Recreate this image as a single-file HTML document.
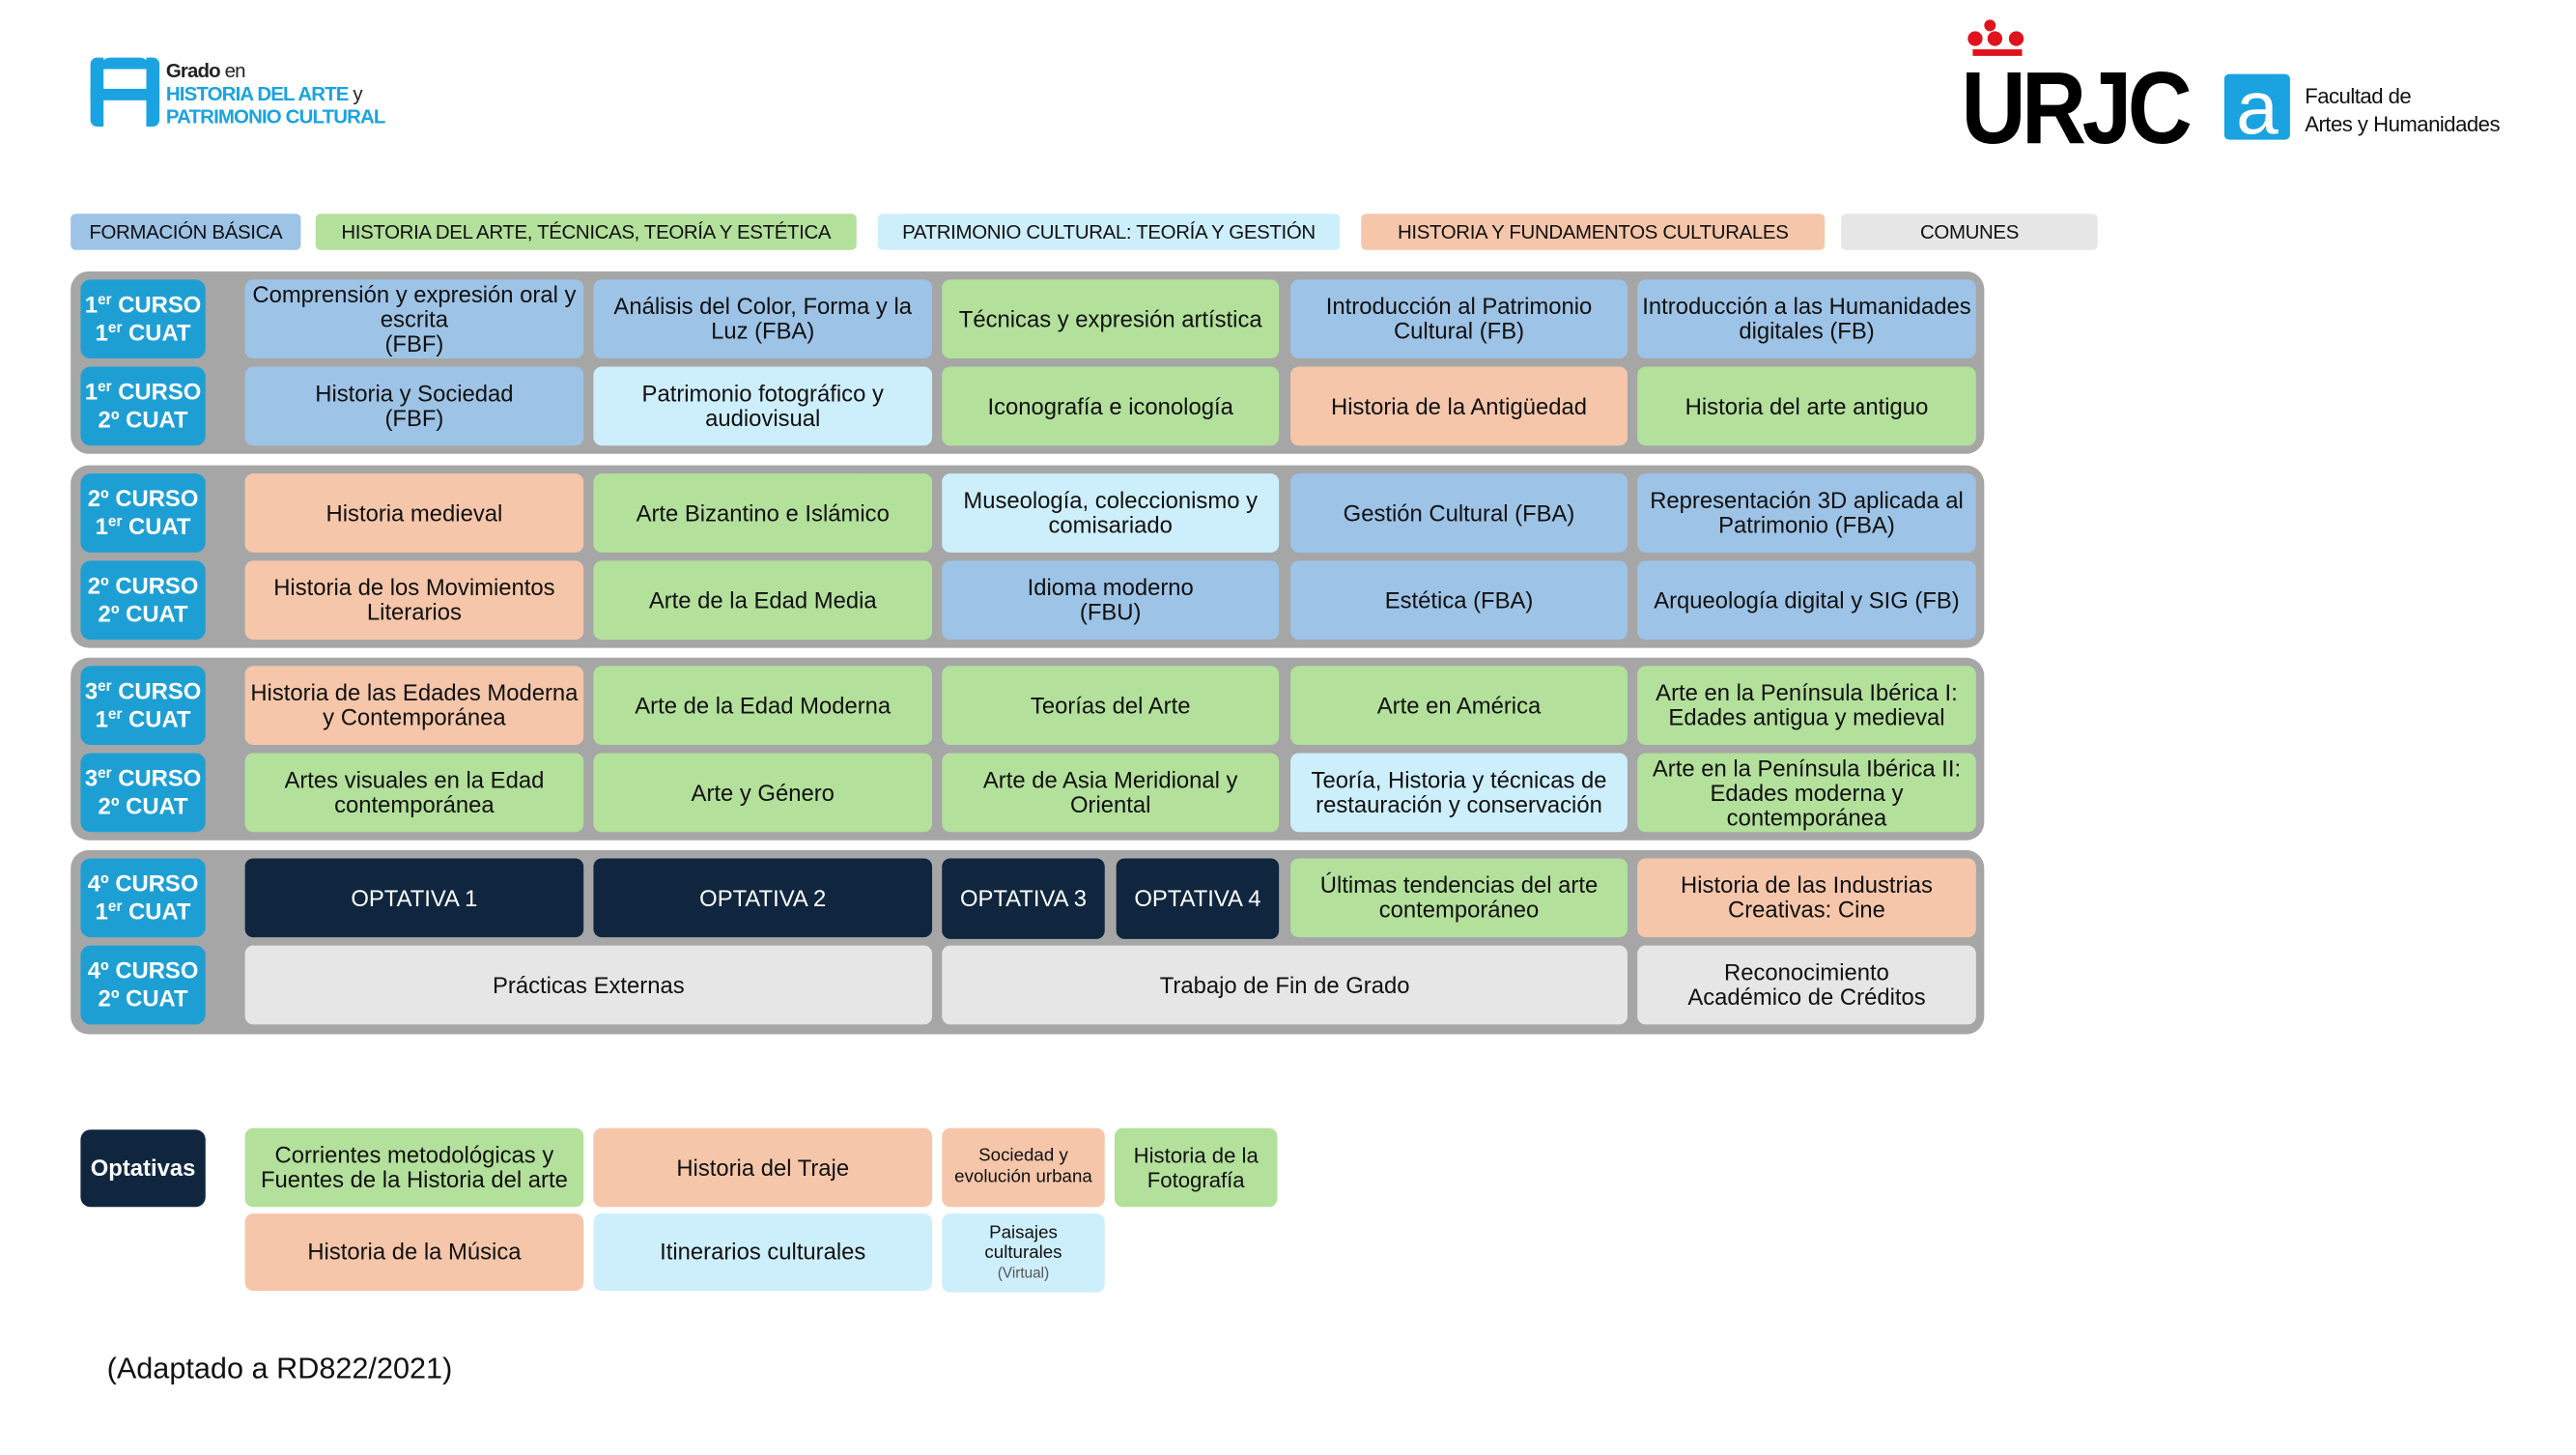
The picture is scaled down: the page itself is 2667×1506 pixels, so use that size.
<!DOCTYPE html>
<html><head><meta charset="utf-8"><style>
html,body{margin:0;padding:0;background:#fff;width:2667px;height:1500px;overflow:hidden}
#w{position:absolute;left:0;top:0;width:1570px;height:885px;transform:scale(1.702,1.702);transform-origin:0 0;font-family:"Liberation Sans",Arial,sans-serif}
.a{position:absolute;box-sizing:border-box;display:flex;align-items:center;justify-content:center;text-align:center;font-size:14px;line-height:15px;color:#111;border-radius:5px;padding:0 3px}
.a>div{width:100%}
.g{position:absolute;background:#a6a6a6;border-radius:11px}
.L{background:#1e9fd4;color:#fff;font-weight:bold;line-height:17px;border-radius:6px;padding:0}
.L sup{font-size:9px;line-height:0;vertical-align:5px}
.b{background:#9dc3e6}.v{background:#b3e09b}.c{background:#cdeefb}.p{background:#f5c6aa}.e{background:#e6e6e6}.n{background:#10263f;color:#fff}
.lg{font-size:12px;border-radius:3px;letter-spacing:-0.2px}
</style></head><body><div id="w">
<div style="position:absolute;left:55px;top:35px;width:42px;height:42px">
<div style="position:absolute;left:0;top:0;width:8px;height:42px;background:#1aa3e0;border-radius:4px 0 0 4px"></div>
<div style="position:absolute;right:0;top:0;width:8px;height:42px;background:#1aa3e0;border-radius:0 4px 4px 0"></div>
<div style="position:absolute;left:6px;top:0;width:30px;height:7px;background:#1aa3e0;border-radius:6px 6px 0 0"></div>
<div style="position:absolute;left:0;top:19px;width:42px;height:7px;background:#1aa3e0"></div>
</div>
<div style="position:absolute;left:101px;top:36px;font-size:12px;line-height:14px;font-weight:bold;letter-spacing:-0.5px;color:#222">Grado <span style="font-weight:normal">en</span><br><span style="color:#1aa3e0">HISTORIA DEL ARTE</span> <span style="font-weight:normal">y</span><br><span style="color:#1aa3e0">PATRIMONIO CULTURAL</span></div>
<div style="position:absolute;left:1207px;top:12px;width:7px;height:7px;border-radius:50%;background:#e0121b"></div>
<div style="position:absolute;left:1197px;top:19px;width:9px;height:9px;border-radius:50%;background:#e0121b"></div>
<div style="position:absolute;left:1209px;top:19px;width:9px;height:9px;border-radius:50%;background:#e0121b"></div>
<div style="position:absolute;left:1222px;top:19px;width:9px;height:9px;border-radius:50%;background:#e0121b"></div>
<div style="position:absolute;left:1200px;top:30px;width:30px;height:4px;background:#e0121b"></div>
<div style="position:absolute;left:1193px;top:32px;font-size:62px;line-height:70px;font-weight:bold;color:#000;letter-spacing:-3px;transform:scaleX(0.88);transform-origin:0 0">URJC</div>
<div style="position:absolute;left:1353px;top:45px;width:40px;height:40px;background:#1aa3e0;border-radius:3px;color:#fff;font-size:46px;line-height:40px;text-align:center;overflow:hidden">a</div>
<div style="position:absolute;left:1402px;top:50px;font-size:13px;line-height:17px;color:#111;letter-spacing:-0.3px">Facultad de<br>Artes y Humanidades</div>
<div class="a lg b" style="left:43px;top:130px;width:140px;height:22px">FORMACIÓN BÁSICA</div>
<div class="a lg v" style="left:192px;top:130px;width:329px;height:22px">HISTORIA DEL ARTE, TÉCNICAS, TEORÍA Y ESTÉTICA</div>
<div class="a lg c" style="left:534px;top:130px;width:281px;height:22px">PATRIMONIO CULTURAL: TEORÍA Y GESTIÓN</div>
<div class="a lg p" style="left:828px;top:130px;width:282px;height:22px">HISTORIA Y FUNDAMENTOS CULTURALES</div>
<div class="a lg e" style="left:1120px;top:130px;width:156px;height:22px">COMUNES</div>
<div class="g" style="left:43px;top:165px;width:1164px;height:111px"></div>
<div class="g" style="left:43px;top:283px;width:1164px;height:111px"></div>
<div class="g" style="left:43px;top:400px;width:1164px;height:111px"></div>
<div class="g" style="left:43px;top:517px;width:1164px;height:112px"></div>
<div class="a L" style="left:49px;top:170px;width:76px;height:48px"><div>1<sup>er</sup> CURSO<br>1<sup>er</sup> CUAT</div></div>
<div class="a L" style="left:49px;top:223px;width:76px;height:48px"><div>1<sup>er</sup> CURSO<br>2º CUAT</div></div>
<div class="a L" style="left:49px;top:288px;width:76px;height:48px"><div>2º CURSO<br>1<sup>er</sup> CUAT</div></div>
<div class="a L" style="left:49px;top:341px;width:76px;height:48px"><div>2º CURSO<br>2º CUAT</div></div>
<div class="a L" style="left:49px;top:405px;width:76px;height:48px"><div>3<sup>er</sup> CURSO<br>1<sup>er</sup> CUAT</div></div>
<div class="a L" style="left:49px;top:458px;width:76px;height:48px"><div>3<sup>er</sup> CURSO<br>2º CUAT</div></div>
<div class="a L" style="left:49px;top:522px;width:76px;height:48px"><div>4º CURSO<br>1<sup>er</sup> CUAT</div></div>
<div class="a L" style="left:49px;top:575px;width:76px;height:48px"><div>4º CURSO<br>2º CUAT</div></div>
<div class="a b" style="left:149px;top:170px;width:206px;height:48px"><div>Comprensión y expresión oral y escrita<br>(FBF)</div></div>
<div class="a b" style="left:361px;top:170px;width:206px;height:48px"><div>Análisis del Color, Forma y la<br>Luz (FBA)</div></div>
<div class="a v" style="left:573px;top:170px;width:205px;height:48px"><div>Técnicas y expresión artística</div></div>
<div class="a b" style="left:785px;top:170px;width:205px;height:48px"><div>Introducción al Patrimonio Cultural (FB)</div></div>
<div class="a b" style="left:996px;top:170px;width:206px;height:48px"><div>Introducción a las Humanidades digitales (FB)</div></div>
<div class="a b" style="left:149px;top:223px;width:206px;height:48px"><div>Historia y Sociedad<br>(FBF)</div></div>
<div class="a c" style="left:361px;top:223px;width:206px;height:48px"><div>Patrimonio fotográfico y<br>audiovisual</div></div>
<div class="a v" style="left:573px;top:223px;width:205px;height:48px"><div>Iconografía e iconología</div></div>
<div class="a p" style="left:785px;top:223px;width:205px;height:48px"><div>Historia de la Antigüedad</div></div>
<div class="a v" style="left:996px;top:223px;width:206px;height:48px"><div>Historia del arte antiguo</div></div>
<div class="a p" style="left:149px;top:288px;width:206px;height:48px"><div>Historia medieval</div></div>
<div class="a v" style="left:361px;top:288px;width:206px;height:48px"><div>Arte Bizantino e Islámico</div></div>
<div class="a c" style="left:573px;top:288px;width:205px;height:48px"><div>Museología, coleccionismo y comisariado</div></div>
<div class="a b" style="left:785px;top:288px;width:205px;height:48px"><div>Gestión Cultural (FBA)</div></div>
<div class="a b" style="left:996px;top:288px;width:206px;height:48px"><div>Representación 3D aplicada al Patrimonio (FBA)</div></div>
<div class="a p" style="left:149px;top:341px;width:206px;height:48px"><div>Historia de los Movimientos Literarios</div></div>
<div class="a v" style="left:361px;top:341px;width:206px;height:48px"><div>Arte de la Edad Media</div></div>
<div class="a b" style="left:573px;top:341px;width:205px;height:48px"><div>Idioma moderno<br>(FBU)</div></div>
<div class="a b" style="left:785px;top:341px;width:205px;height:48px"><div>Estética (FBA)</div></div>
<div class="a b" style="left:996px;top:341px;width:206px;height:48px"><div>Arqueología digital y SIG (FB)</div></div>
<div class="a p" style="left:149px;top:405px;width:206px;height:48px"><div>Historia de las Edades Moderna<br>y Contemporánea</div></div>
<div class="a v" style="left:361px;top:405px;width:206px;height:48px"><div>Arte de la Edad Moderna</div></div>
<div class="a v" style="left:573px;top:405px;width:205px;height:48px"><div>Teorías del Arte</div></div>
<div class="a v" style="left:785px;top:405px;width:205px;height:48px"><div>Arte en América</div></div>
<div class="a v" style="left:996px;top:405px;width:206px;height:48px"><div>Arte en la Península Ibérica I: Edades antigua y medieval</div></div>
<div class="a v" style="left:149px;top:458px;width:206px;height:48px"><div>Artes visuales en la Edad contemporánea</div></div>
<div class="a v" style="left:361px;top:458px;width:206px;height:48px"><div>Arte y Género</div></div>
<div class="a v" style="left:573px;top:458px;width:205px;height:48px"><div>Arte de Asia Meridional y<br>Oriental</div></div>
<div class="a c" style="left:785px;top:458px;width:205px;height:48px"><div>Teoría, Historia y técnicas de restauración y conservación</div></div>
<div class="a v" style="left:996px;top:458px;width:206px;height:48px"><div>Arte en la Península Ibérica II: Edades moderna y contemporánea</div></div>
<div class="a n" style="left:149px;top:522px;width:206px;height:48px"><div>OPTATIVA 1</div></div>
<div class="a n" style="left:361px;top:522px;width:206px;height:48px"><div>OPTATIVA 2</div></div>
<div class="a n" style="left:573px;top:522px;width:99px;height:49px;padding:0"><div>OPTATIVA 3</div></div>
<div class="a n" style="left:679px;top:522px;width:99px;height:49px;padding:0"><div>OPTATIVA 4</div></div>
<div class="a v" style="left:785px;top:522px;width:205px;height:48px"><div>Últimas tendencias del arte contemporáneo</div></div>
<div class="a p" style="left:996px;top:522px;width:206px;height:48px"><div>Historia de las Industrias Creativas: Cine</div></div>
<div class="a e" style="left:149px;top:575px;width:418px;height:48px"><div>Prácticas Externas</div></div>
<div class="a e" style="left:573px;top:575px;width:417px;height:48px"><div>Trabajo de Fin de Grado</div></div>
<div class="a e" style="left:996px;top:575px;width:206px;height:48px"><div>Reconocimiento<br>Académico de Créditos</div></div>
<div class="a n" style="left:49px;top:687px;width:76px;height:47px;font-weight:bold;border-radius:6px;padding:0"><div>Optativas</div></div>
<div class="a v" style="left:149px;top:686px;width:206px;height:48px"><div>Corrientes metodológicas y Fuentes de la Historia del arte</div></div>
<div class="a p" style="left:361px;top:686px;width:206px;height:48px"><div>Historia del Traje</div></div>
<div class="a p" style="left:573px;top:686px;width:99px;height:48px;font-size:11px;line-height:13px;padding:0"><div>Sociedad y<br>evolución urbana</div></div>
<div class="a v" style="left:678px;top:686px;width:99px;height:48px;font-size:13px"><div>Historia de la<br>Fotografía</div></div>
<div class="a p" style="left:149px;top:738px;width:206px;height:47px"><div>Historia de la Música</div></div>
<div class="a c" style="left:361px;top:738px;width:206px;height:47px"><div>Itinerarios culturales</div></div>
<div class="a c" style="left:573px;top:738px;width:99px;height:48px;font-size:11px;line-height:12px;padding:0"><div>Paisajes<br>culturales<br><span style="font-size:9px;color:#555">(Virtual)</span></div></div>
<div style="position:absolute;left:65px;top:821px;font-size:18px;line-height:22px;color:#111">(Adaptado a RD822/2021)</div>
</div></body></html>
